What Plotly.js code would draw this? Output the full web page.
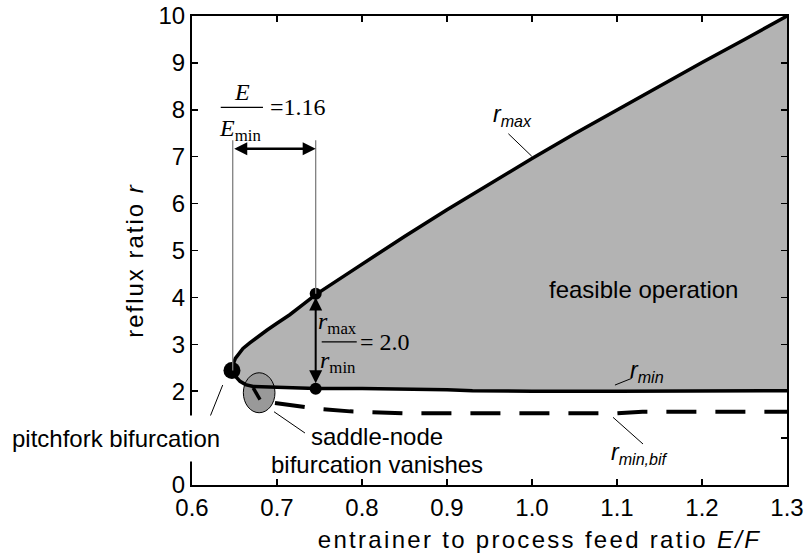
<!DOCTYPE html>
<html>
<head>
<meta charset="utf-8">
<script src="https://cdn.plot.ly/plotly-3.0.1.min.js"></script>
<style>
  html, body { margin: 0; padding: 0; background: #fff; }
  #chart { width: 805px; height: 553px; }
  .xtitle { letter-spacing: 2.3px; translate: 50px 0; }
  .ytitle { letter-spacing: 2.0px; translate: 2px 10px; }
</style>
</head>
<body>
<div id="chart"></div>
<script>
// ---- data ----
const rmaxX = [0.647, 0.6485, 0.651, 0.655, 0.660, 0.668, 0.678, 0.688, 0.700, 0.715, 0.730, 0.7455, 0.780, 0.800, 0.850, 0.900, 0.950, 1.000, 1.050, 1.100, 1.150, 1.200, 1.250, 1.300];
const rmaxY = [2.44, 2.58, 2.70, 2.80, 2.91, 3.03, 3.17, 3.30, 3.45, 3.63, 3.84, 4.06, 4.47, 4.71, 5.30, 5.87, 6.42, 6.96, 7.49, 8.00, 8.51, 9.01, 9.50, 10.00];

const rminX = [0.647, 0.651, 0.6565, 0.663, 0.672, 0.700, 0.7455, 0.800, 0.850, 0.900, 0.930, 0.960, 1.000, 1.100, 1.200, 1.300];
const rminY = [2.44, 2.32, 2.21, 2.14, 2.10, 2.08, 2.06, 2.06, 2.05, 2.03, 2.01, 2.00, 2.00, 2.00, 2.01, 2.01];

const saddleX = [0.672, 0.680];
const saddleY = [2.07, 1.82];

const bifX = [0.6976, 0.723, 0.750, 0.786, 0.850, 0.900, 0.960, 1.000, 1.100, 1.130, 1.200, 1.300];
const bifY = [1.75, 1.68, 1.62, 1.57, 1.53, 1.53, 1.52, 1.53, 1.53, 1.56, 1.56, 1.56];

const dotX = [0.647, 0.7455, 0.7455];
const dotY = [2.44, 4.08, 2.05];
const dotSize = [17, 12, 12];

const xTicks = [0.6, 0.7, 0.8, 0.9, 1.0, 1.1, 1.2, 1.3];
const yTicks = [0, 1, 2, 3, 4, 5, 6, 7, 8, 9, 10];
const yTickText = ['0', '', '2', '3', '4', '5', '6', '7', '8', '9', '10']; // "1" is hidden behind the label

// ---- feasible region path built from the curves ----
let path = 'M' + rmaxX.map((x, i) => x + ',' + rmaxY[i]).join(' L');
for (let i = rminX.length - 1; i >= 0; i--) path += ' L' + rminX[i] + ',' + rminY[i];
path += ' Z';

const SANS = 'Liberation Sans, Arial, sans-serif';
const SERIF = 'Liberation Serif, Times New Roman, serif';

const traces = [
  { x: rmaxX, y: rmaxY, mode: 'lines', line: { color: '#000', width: 3.5 }, hoverinfo: 'skip' },
  { x: rminX, y: rminY, mode: 'lines', line: { color: '#000', width: 3.5 }, hoverinfo: 'skip' },
  { x: saddleX, y: saddleY, mode: 'lines', line: { color: '#000', width: 3.5 }, hoverinfo: 'skip' },
  { x: bifX, y: bifY, mode: 'lines', line: { color: '#000', width: 4, dash: '30px,19px' }, hoverinfo: 'skip' },
  { x: dotX, y: dotY, mode: 'markers', marker: { color: '#000', size: dotSize, opacity: 1, line: { width: 0 } }, hoverinfo: 'skip' }
];

const shapes = [
  { type: 'path', xref: 'x', yref: 'y', path: path, fillcolor: '#b3b3b3', line: { width: 0 }, layer: 'below' },
  { type: 'circle', xref: 'x', yref: 'y', x0: 0.6604, x1: 0.6976, y0: 1.541, y1: 2.393, fillcolor: '#999999', line: { color: '#000', width: 1 }, layer: 'below' },
  // vertical guide lines
  { type: 'line', xref: 'x', yref: 'y', x0: 0.6479, x1: 0.6479, y0: 7.35, y1: 2.44, line: { color: '#808080', width: 1.3 } },
  { type: 'line', xref: 'x', yref: 'y', x0: 0.7455, x1: 0.7455, y0: 7.35, y1: 4.08, line: { color: '#808080', width: 1.3 } },
  // fraction bars
  { type: 'line', xref: 'x', yref: 'y', x0: 0.6338, x1: 0.6835, y0: 8.05, y1: 8.05, line: { color: '#000', width: 1.3 } },
  { type: 'line', xref: 'x', yref: 'y', x0: 0.7526, x1: 0.7938, y0: 3.053, y1: 3.053, line: { color: '#000', width: 1.3 } },
  // leader lines
  { type: 'line', xref: 'x', yref: 'y', x0: 0.9722, y0: 7.49, x1: 0.9997, y1: 7.01, line: { color: '#000', width: 1 } },
  { type: 'line', xref: 'x', yref: 'y', x0: 1.1173, y0: 2.274, x1: 1.0976, y1: 2.131, line: { color: '#000', width: 1 } },
  { type: 'line', xref: 'x', yref: 'y', x0: 1.1306, y0: 0.874, x1: 1.0953, y1: 1.443, line: { color: '#000', width: 1 } },
  { type: 'line', xref: 'x', yref: 'y', x0: 0.6173, y0: 1.279, x1: 0.6361, y1: 2.131, line: { color: '#000', width: 1 } },
  { type: 'line', xref: 'x', yref: 'y', x0: 0.6965, y0: 1.562, x1: 0.7329, y1: 1.108, line: { color: '#000', width: 1 } }
];

const sansFont = { family: SANS, size: 24, color: '#000' };
const serifFont = { family: SERIF, size: 24, color: '#000' };
const labFont = { family: SANS, size: 23, color: '#000' };

const annotations = [
  // double arrows
  { xref: 'x', yref: 'y', axref: 'x', ayref: 'y', x: 0.7455, y: 7.17, ax: 0.6479, ay: 7.17, text: '', showarrow: true,
    arrowside: 'end+start', arrowhead: 2, startarrowhead: 2, arrowwidth: 2.6, arrowsize: 1, startarrowsize: 1, arrowcolor: '#000', standoff: 0, startstandoff: 0 },
  { xref: 'x', yref: 'y', axref: 'x', ayref: 'y', x: 0.7455, y: 4.0, ax: 0.7455, ay: 2.14, text: '', showarrow: true,
    arrowside: 'end+start', arrowhead: 2, startarrowhead: 2, arrowwidth: 2, arrowsize: 1.3, startarrowsize: 1.3, arrowcolor: '#000', standoff: 0, startstandoff: 0 },
  // E / Emin = 1.16
  { xref: 'x', yref: 'y', x: 0.6585, y: 8.37, text: '<i>E</i>', showarrow: false, font: serifFont, xanchor: 'center', yanchor: 'middle' },
  { xref: 'x', yref: 'y', x: 0.6565, y: 7.58, text: '<i>E</i><sub>min</sub>', showarrow: false, font: serifFont, xanchor: 'center', yanchor: 'middle' },
  { xref: 'x', yref: 'y', x: 0.6894, y: 8.05, text: '=1.16', showarrow: false, xanchor: 'left', yanchor: 'middle', font: serifFont },
  // rmax / rmin = 2.0
  { xref: 'x', yref: 'y', x: 0.7712, y: 3.45, text: '<i>r</i><sub>max</sub>', showarrow: false, font: serifFont, xanchor: 'center', yanchor: 'middle' },
  { xref: 'x', yref: 'y', x: 0.7712, y: 2.62, text: '<i>r</i><sub>min</sub>', showarrow: false, font: serifFont, xanchor: 'center', yanchor: 'middle' },
  { xref: 'x', yref: 'y', x: 0.7957, y: 3.053, text: '= 2.0', showarrow: false, xanchor: 'left', yanchor: 'middle', font: serifFont },
  // curve labels
  { xref: 'x', yref: 'y', x: 0.9765, y: 7.88, text: '<i>r<sub>max</sub></i>', showarrow: false, font: labFont, xanchor: 'center', yanchor: 'middle' },
  { xref: 'x', yref: 'y', x: 1.1353, y: 2.43, text: '<i>r<sub>min</sub></i>', showarrow: false, font: labFont, xanchor: 'center', yanchor: 'middle' },
  { xref: 'x', yref: 'y', x: 1.127, y: 0.68, text: '<i>r<sub>min,bif</sub></i>', showarrow: false, font: labFont, xanchor: 'center', yanchor: 'middle' },
  // region / point labels
  { xref: 'x', yref: 'y', x: 1.1312, y: 4.176, text: 'feasible operation', showarrow: false, font: sansFont, xanchor: 'center', yanchor: 'middle' },
  { xref: 'paper', yref: 'paper', x: -0.127, y: 0.1, text: 'pitchfork bifurcation', showarrow: false, font: sansFont,
    xanchor: 'center', yanchor: 'middle', bgcolor: '#fff', borderpad: 9 },
  { xref: 'x', yref: 'y', x: 0.8176, y: 1.03, text: 'saddle-node', showarrow: false, font: sansFont, xanchor: 'center', yanchor: 'middle' },
  { xref: 'x', yref: 'y', x: 0.8176, y: 0.43, text: 'bifurcation vanishes', showarrow: false, font: sansFont, xanchor: 'center', yanchor: 'middle' }
];

const axisCommon = {
  showline: true, linecolor: '#000', linewidth: 2, mirror: 'ticks',
  ticks: 'inside', ticklen: 6, tickwidth: 1.5, tickcolor: '#000',
  showgrid: false, zeroline: false, tickfont: sansFont
};

const layout = {
  width: 805, height: 553,
  margin: { l: 192, r: 18, t: 16, b: 68, pad: 0 },
  paper_bgcolor: '#fff', plot_bgcolor: '#fff',
  showlegend: false,
  font: { family: SANS, color: '#000' },
  xaxis: Object.assign({}, axisCommon, {
    range: [0.6, 1.3], tickvals: xTicks, tickformat: '.1f',
    title: { text: 'entrainer to process feed ratio <i>E/F</i>', font: { family: SANS, size: 24, color: '#000' }, standoff: 11 }
  }),
  yaxis: Object.assign({}, axisCommon, {
    range: [0, 10], tickvals: yTicks, ticktext: yTickText, tickmode: 'array',
    title: { text: 'reflux ratio <i>r</i>', font: { family: SANS, size: 24, color: '#000' }, standoff: 10 }
  }),
  shapes: shapes,
  annotations: annotations
};

Plotly.newPlot('chart', traces, layout, { staticPlot: true, displayModeBar: false });
</script>
</body>
</html>
